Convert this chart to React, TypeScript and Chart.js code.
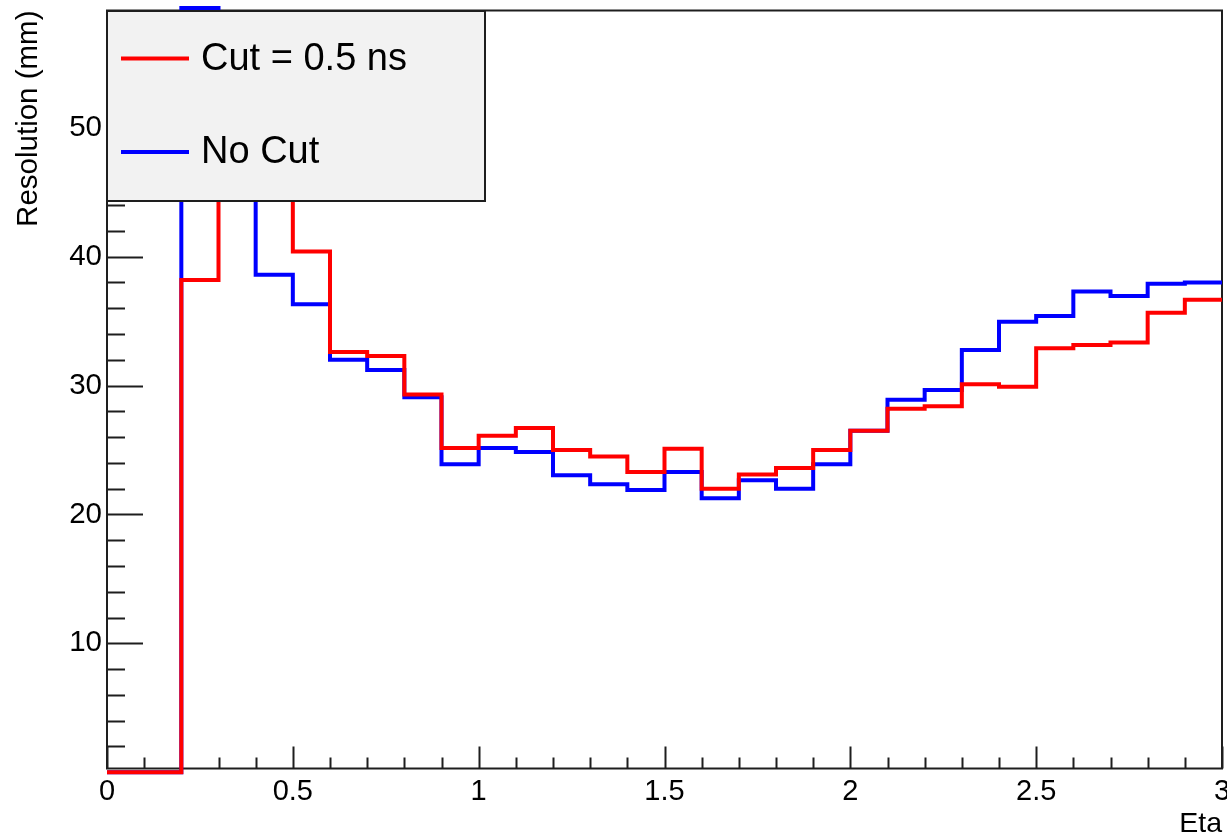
import React, { useEffect, useRef } from "react";
import { Chart, registerables } from "chart.js";

Chart.register(...registerables);

// Bin lower edges (Eta), bin width 0.1
const BIN_LOW = [
  0.0, 0.1, 0.2, 0.3, 0.4, 0.5, 0.6, 0.7, 0.8, 0.9,
  1.0, 1.1, 1.2, 1.3, 1.4, 1.5, 1.6, 1.7, 1.8, 1.9,
  2.0, 2.1, 2.2, 2.3, 2.4, 2.5, 2.6, 2.7, 2.8, 2.9,
];
const X_MIN = 0;
const X_MAX = 3.0;

// Resolution (mm) per bin
const CUT_05NS = [
  0, 0, 38.2, 52.0, 48.0, 40.4, 32.6, 32.3, 29.3, 25.15,
  26.1, 26.7, 25.0, 24.5, 23.3, 25.1, 22.0, 23.1, 23.6, 25.0,
  26.5, 28.2, 28.4, 30.1, 29.9, 32.9, 33.15, 33.35, 35.65, 36.65,
];
const NO_CUT = [
  0, 0, 59.3, 50.0, 38.6, 36.3, 32.0, 31.2, 29.1, 23.9,
  25.15, 24.85, 23.05, 22.35, 21.9, 23.3, 21.25, 22.65, 22.0, 23.9,
  26.5, 28.9, 29.65, 32.75, 34.95, 35.4, 37.3, 36.95, 37.9, 38.0,
];

const Y_MIN = 0.29;
const Y_MAX = 59.1;
const X_TICKS = [0, 0.5, 1, 1.5, 2, 2.5, 3];
const Y_TICKS = [10, 20, 30, 40, 50];

const LEGEND_LABELS = ["Cut = 0.5 ns", "No Cut"];
const SERIES_COLORS = ["#ff0000", "#0000ff"];

const FONT = "'Liberation Sans', Arial, Helvetica, sans-serif";
const AXIS_COLOR = "#1e1e1e";

function histPoints(values: number[]) {
  const pts = BIN_LOW.map((x, i) => ({ x, y: values[i] }));
  pts.push({ x: X_MAX, y: values[values.length - 1] });
  return pts;
}

const rootAxes = {
  id: "rootAxes",
  beforeDatasetsDraw(chart: any) {
    const { ctx, chartArea: a, scales } = chart;
    const x = scales.x;
    const y = scales.y;
    ctx.save();
    ctx.strokeStyle = AXIS_COLOR;
    ctx.lineWidth = 2;
    ctx.strokeRect(a.left, a.top, a.right - a.left, a.bottom - a.top);
    ctx.lineWidth = 2;
    ctx.beginPath();
    for (let i = 0; i <= 30; i++) {
      const v = X_MIN + i * 0.1;
      const px = Math.round(x.getPixelForValue(v)) + 0.5;
      const len = i % 5 === 0 ? 22 : 11;
      ctx.moveTo(px, a.bottom);
      ctx.lineTo(px, a.bottom - len);
    }
    for (let v = 2; v < Y_MAX; v += 2) {
      const py = Math.round(y.getPixelForValue(v)) + 0.5;
      const len = v % 10 === 0 ? 36 : 18;
      ctx.moveTo(a.left, py);
      ctx.lineTo(a.left + len, py);
    }
    ctx.stroke();
    ctx.restore();
  },
  afterDatasetsDraw(chart: any) {
    const { ctx, chartArea: a } = chart;
    ctx.save();
    const bx = a.left;
    const by = a.top + 0.5;
    const bw = 378;
    const bh = 190;
    ctx.fillStyle = "#f2f2f2";
    ctx.fillRect(bx, by, bw, bh);
    ctx.strokeStyle = AXIS_COLOR;
    ctx.lineWidth = 2;
    ctx.strokeRect(bx, by, bw, bh);
    const rows = [58.5, 152];
    LEGEND_LABELS.forEach((label, i) => {
      ctx.strokeStyle = SERIES_COLORS[i];
      ctx.lineWidth = 4;
      ctx.beginPath();
      ctx.moveTo(121, rows[i]);
      ctx.lineTo(189, rows[i]);
      ctx.stroke();
      ctx.fillStyle = "#000";
      ctx.font = `38px ${FONT}`;
      ctx.textAlign = "left";
      ctx.textBaseline = "middle";
      ctx.fillText(label, 201, rows[i] + 1);
    });
    ctx.restore();
  },
};

export default function App() {
  const ref = useRef<HTMLCanvasElement>(null);
  useEffect(() => {
    document.body.style.margin = "0";
    const canvas = ref.current;
    if (!canvas) return;
    const chart = new Chart(canvas, {
      type: "line",
      data: {
        datasets: [
          {
            label: LEGEND_LABELS[0],
            data: histPoints(CUT_05NS),
            borderColor: SERIES_COLORS[0],
            borderWidth: 4,
            stepped: true,
            pointRadius: 0,
            fill: false,
            clip: false,
            order: 0,
            borderJoinStyle: "miter",
            borderCapStyle: "butt",
          },
          {
            label: LEGEND_LABELS[1],
            data: histPoints(NO_CUT),
            borderColor: SERIES_COLORS[1],
            borderWidth: 4,
            stepped: true,
            pointRadius: 0,
            fill: false,
            clip: false,
            order: 1,
            borderJoinStyle: "miter",
            borderCapStyle: "butt",
          },
        ],
      },
      options: {
        responsive: false,
        animation: false,
        events: [],
        layout: { padding: { top: 10.5, right: 5, bottom: 0, left: 0 } },
        plugins: {
          legend: { display: false },
          tooltip: { enabled: false },
          title: { display: false },
        },
        scales: {
          x: {
            type: "linear",
            min: X_MIN,
            max: X_MAX,
            grid: { display: false, drawTicks: false },
            border: { display: false },
            afterBuildTicks: (s: any) => {
              s.ticks = X_TICKS.map((v) => ({ value: v }));
            },
            afterFit: (s: any) => {
              s.height = 68.5;
              s.paddingLeft = 0;
              s.paddingRight = 0;
            },
            ticks: {
              color: "#000",
              font: { family: FONT, size: 29 },
              padding: 6,
              maxRotation: 0,
              autoSkip: false,
              callback: (v: any) => String(Number(Number(v).toFixed(2))),
            },
            title: {
              display: true,
              text: "Eta",
              align: "end",
              color: "#000",
              font: { family: FONT, size: 28.5, lineHeight: 0.9 },
              padding: { top: 0, bottom: 0 },
            },
          },
          y: {
            type: "linear",
            min: Y_MIN,
            max: Y_MAX,
            grid: { display: false, drawTicks: false },
            border: { display: false },
            afterBuildTicks: (s: any) => {
              s.ticks = Y_TICKS.map((v) => ({ value: v }));
            },
            afterFit: (s: any) => {
              s.width = 107;
              s.paddingTop = 0;
              s.paddingBottom = 0;
            },
            ticks: {
              color: "#000",
              font: { family: FONT, size: 29.5 },
              padding: 5,
              autoSkip: false,
              callback: (v: any) => String(v),
            },
            title: {
              display: true,
              text: "Resolution (mm)",
              align: "end",
              color: "#000",
              font: { family: FONT, size: 29.5, lineHeight: 1.2 },
              padding: { top: 11, bottom: 0 },
            },
          },
        },
      },
      plugins: [rootAxes],
    } as any);
    return () => chart.destroy();
  }, []);
  return (
    <div style={{ position: "fixed", left: 0, top: 0, width: 1227, height: 837, background: "#fff" }}>
      <canvas ref={ref} width={1227} height={837} style={{ display: "block" }} />
    </div>
  );
}
